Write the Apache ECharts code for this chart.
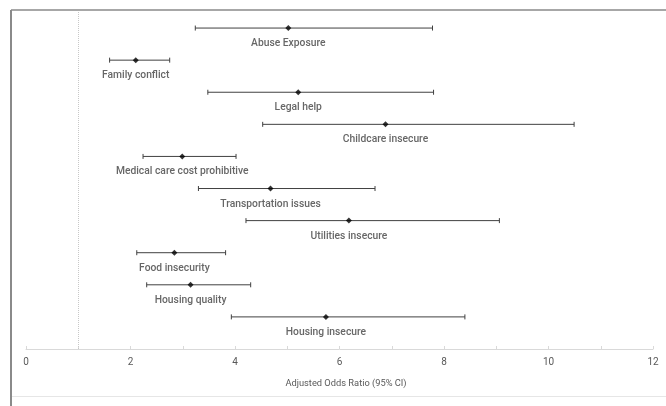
<!DOCTYPE html>
<html>
<head>
<meta charset="utf-8">
<script src="https://cdn.jsdelivr.net/npm/echarts@6/dist/echarts.min.js"></script>
<style>
  html, body { margin: 0; padding: 0; background: #fff; }
  #chart { width: 666px; height: 406px; }
</style>
</head>
<body>
<div id="chart"></div>
<script>
// forest plot - adjusted odds ratios
var categories = ['Abuse Exposure', 'Family conflict', 'Legal help', 'Childcare insecure',
    'Medical care cost prohibitive', 'Transportation issues', 'Utilities insecure',
    'Food insecurity', 'Housing quality', 'Housing insecure'];
var oddsRatio = [5.02, 2.10, 5.21, 6.88, 2.99, 4.68, 6.18, 2.84, 3.15, 5.74];
var ciLow = [3.24, 1.60, 3.48, 4.53, 2.24, 3.30, 4.21, 2.12, 2.31, 3.93];
var ciHigh = [7.78, 2.75, 7.80, 10.49, 4.02, 6.68, 9.06, 3.82, 4.30, 8.40];
var xTicks = [0, 2, 4, 6, 8, 10, 12];

function renderForest() {
    var dom = document.getElementById('chart');
    var myChart = echarts.init(dom);

    var n = categories.length;
    var pointData = [];
    var barData = [];
    for (var i = 0; i < n; i++) {
        pointData.push({ name: categories[i], value: [oddsRatio[i], n - i] });
        barData.push([ciLow[i], ciHigh[i], n - i]);
    }

    var option = {
        backgroundColor: '#FFFFFF',
        animation: false,
        textStyle: { fontFamily: 'Roboto' },
        graphic: [
            { type: 'line', shape: { x1: 11, y1: 10, x2: 666, y2: 10 }, style: { stroke: '#8a8a8a', lineWidth: 1.5 } },
            { type: 'line', shape: { x1: 11, y1: 10, x2: 11, y2: 406 }, style: { stroke: '#8a8a8a', lineWidth: 2 } },
            { type: 'line', shape: { x1: 12, y1: 396.5, x2: 666, y2: 396.5 }, style: { stroke: '#e6e6e6', lineWidth: 1 } }
        ],
        grid: {
            left: 26,
            right: 13,
            top: 12,
            bottom: 57
        },
        xAxis: {
            type: 'value',
            min: xTicks[0],
            max: xTicks[xTicks.length - 1],
            interval: 2,
            name: 'Adjusted Odds Ratio (95% CI)',
            nameLocation: 'middle',
            nameGap: 30,
            nameTextStyle: { color: '#595959', fontSize: 9.3, fontFamily: 'Roboto', padding: [0, 0, 0, 13] },
            axisLine: { lineStyle: { color: '#d9d9d9', width: 1 } },
            axisTick: { show: true, inside: true, length: 3, lineStyle: { color: '#d9d9d9' } },
            minorTick: { show: true, splitNumber: 2, length: 3, lineStyle: { color: '#d9d9d9' } },
            axisLabel: { color: '#595959', fontSize: 10, margin: 8 },
            splitLine: { show: false }
        },
        yAxis: {
            type: 'value',
            min: 0,
            max: 10.5,
            show: false,
            splitLine: { show: false }
        },
        series: [
            {
                type: 'custom',
                data: barData,
                encode: { x: [0, 1], y: 2 },
                renderItem: function (params, api) {
                    var y = api.value(2);
                    var p1 = api.coord([api.value(0), y]);
                    var p2 = api.coord([api.value(1), y]);
                    var cap = 2.5;
                    var st = { stroke: '#404040', lineWidth: 1 };
                    return {
                        type: 'group',
                        children: [
                            { type: 'line', shape: { x1: p1[0], y1: p1[1], x2: p2[0], y2: p2[1] }, style: st },
                            { type: 'line', shape: { x1: p1[0], y1: p1[1] - cap, x2: p1[0], y2: p1[1] + cap }, style: st },
                            { type: 'line', shape: { x1: p2[0], y1: p2[1] - cap, x2: p2[0], y2: p2[1] + cap }, style: st }
                        ]
                    };
                },
                z: 2
            },
            {
                type: 'scatter',
                data: pointData,
                symbol: 'diamond',
                symbolSize: 6,
                itemStyle: { color: '#000000' },
                label: {
                    show: true,
                    position: 'bottom',
                    distance: 7.5,
                    formatter: '{b}',
                    color: '#404040',
                    fontSize: 10.3,
                    fontWeight: 500,
                    fontFamily: 'Roboto'
                },
                markLine: {
                    silent: true,
                    symbol: 'none',
                    label: { show: false },
                    lineStyle: { color: '#c8c8c8', type: 'dotted', width: 1 },
                    data: [{ xAxis: 1 }]
                },
                z: 3
            }
        ]
    };

    myChart.setOption(option);
    window.onresize = function () {
        myChart.resize();
    };
}
renderForest();
</script>
</body>
</html>
